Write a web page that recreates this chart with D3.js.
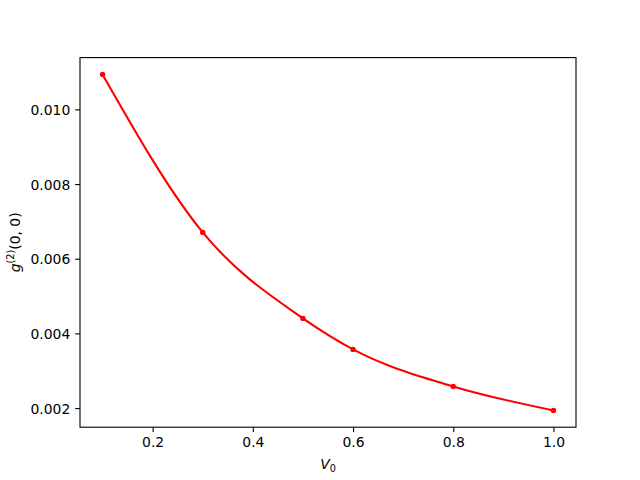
<!DOCTYPE html>
<html>
<head>
<meta charset="utf-8">
<script src="https://cdn.jsdelivr.net/npm/d3@7"></script>
<style>
  body { margin: 0; background: white; }
  #chart { width: 640px; height: 480px; }
  text { font-family: "DejaVu Sans", sans-serif; }
</style>
</head>
<body>
<div id="chart"></div>
<script>
// data
const v0 = [0.1, 0.3, 0.5, 0.6, 0.8, 1.0];
const g2 = [0.010936, 0.006705, 0.004402, 0.003571, 0.002581, 0.001938];
const xTicks = [0.2, 0.4, 0.6, 0.8, 1.0];
const yTicks = [0.002, 0.004, 0.006, 0.008, 0.010];

const margin = { top: 57.6, right: 64, bottom: 52.8, left: 80 },
    width = 640 - margin.left - margin.right,
    height = 480 - margin.top - margin.bottom;

const svg = d3.select("#chart")
    .append("svg")
    .attr("width", 640)
    .attr("height", 480)
    .append("g")
    .attr("transform", `translate(${margin.left},${margin.top})`);

const data = v0.map((v, i) => ({ x: v, y: g2[i] }));

// matplotlib style 5% margins
const xPad = (d3.max(v0) - d3.min(v0)) * 0.05;
const yPad = (d3.max(g2) - d3.min(g2)) * 0.05;

const x = d3.scaleLinear()
    .domain([d3.min(v0) - xPad, d3.max(v0) + xPad])
    .range([0, width]);

const y = d3.scaleLinear()
    .domain([d3.min(g2) - yPad, d3.max(g2) + yPad])
    .range([height, 0]);

const line = d3.line()
    .x(d => x(d.x))
    .y(d => y(d.y))
    .curve(d3.curveMonotoneX);

svg.append("path")
    .datum(data)
    .attr("fill", "none")
    .attr("stroke", "red")
    .attr("stroke-width", 2.08)
    .attr("d", line);

svg.selectAll(".dot")
    .data(data)
    .enter().append("circle")
    .attr("class", "dot")
    .attr("cx", d => x(d.x))
    .attr("cy", d => y(d.y))
    .attr("r", 2.7)
    .attr("fill", "red");

// axes
const xAxis = svg.append("g")
    .attr("transform", `translate(0,${height})`)
    .call(d3.axisBottom(x).tickValues(xTicks).tickFormat(d3.format(".1f")).tickSizeOuter(0).tickSize(4.86).tickPadding(4.86));

const yAxis = svg.append("g")
    .call(d3.axisLeft(y).tickValues(yTicks).tickFormat(d3.format(".3f")).tickSizeOuter(0).tickSize(4.86).tickPadding(4.86));

[xAxis, yAxis].forEach(a => {
    a.select(".domain").remove();
    a.selectAll("line").attr("stroke", "black").attr("stroke-width", 1.11);
    a.selectAll("text")
        .attr("fill", "black")
        .style("font-size", "13.9px")
        .style("font-family", "DejaVu Sans");
});
yAxis.selectAll("text").attr("dy", "0.36em");

// frame
svg.append("rect")
    .attr("x", 0)
    .attr("y", 0)
    .attr("width", width)
    .attr("height", height)
    .attr("fill", "none")
    .attr("stroke", "black")
    .attr("stroke-width", 1.11);

// x label: V_0
const xl = svg.append("text")
    .attr("x", width / 2)
    .attr("y", height + 42)
    .attr("text-anchor", "middle")
    .style("font-size", "13.9px");
xl.append("tspan").style("font-style", "italic").text("V");
xl.append("tspan").attr("dy", 3).style("font-size", "9.7px").text("0");

// y label: g^(2)(0, 0)
const yl = svg.append("text")
    .attr("transform", "rotate(-90)")
    .attr("x", -height / 2)
    .attr("y", -60)
    .attr("text-anchor", "middle")
    .style("font-size", "13.9px");
yl.append("tspan").style("font-style", "italic").text("g");
yl.append("tspan").attr("dy", -6).style("font-size", "9.7px").text("(2)");
yl.append("tspan").attr("dy", 6).text("(0, 0)");
</script>
</body>
</html>
